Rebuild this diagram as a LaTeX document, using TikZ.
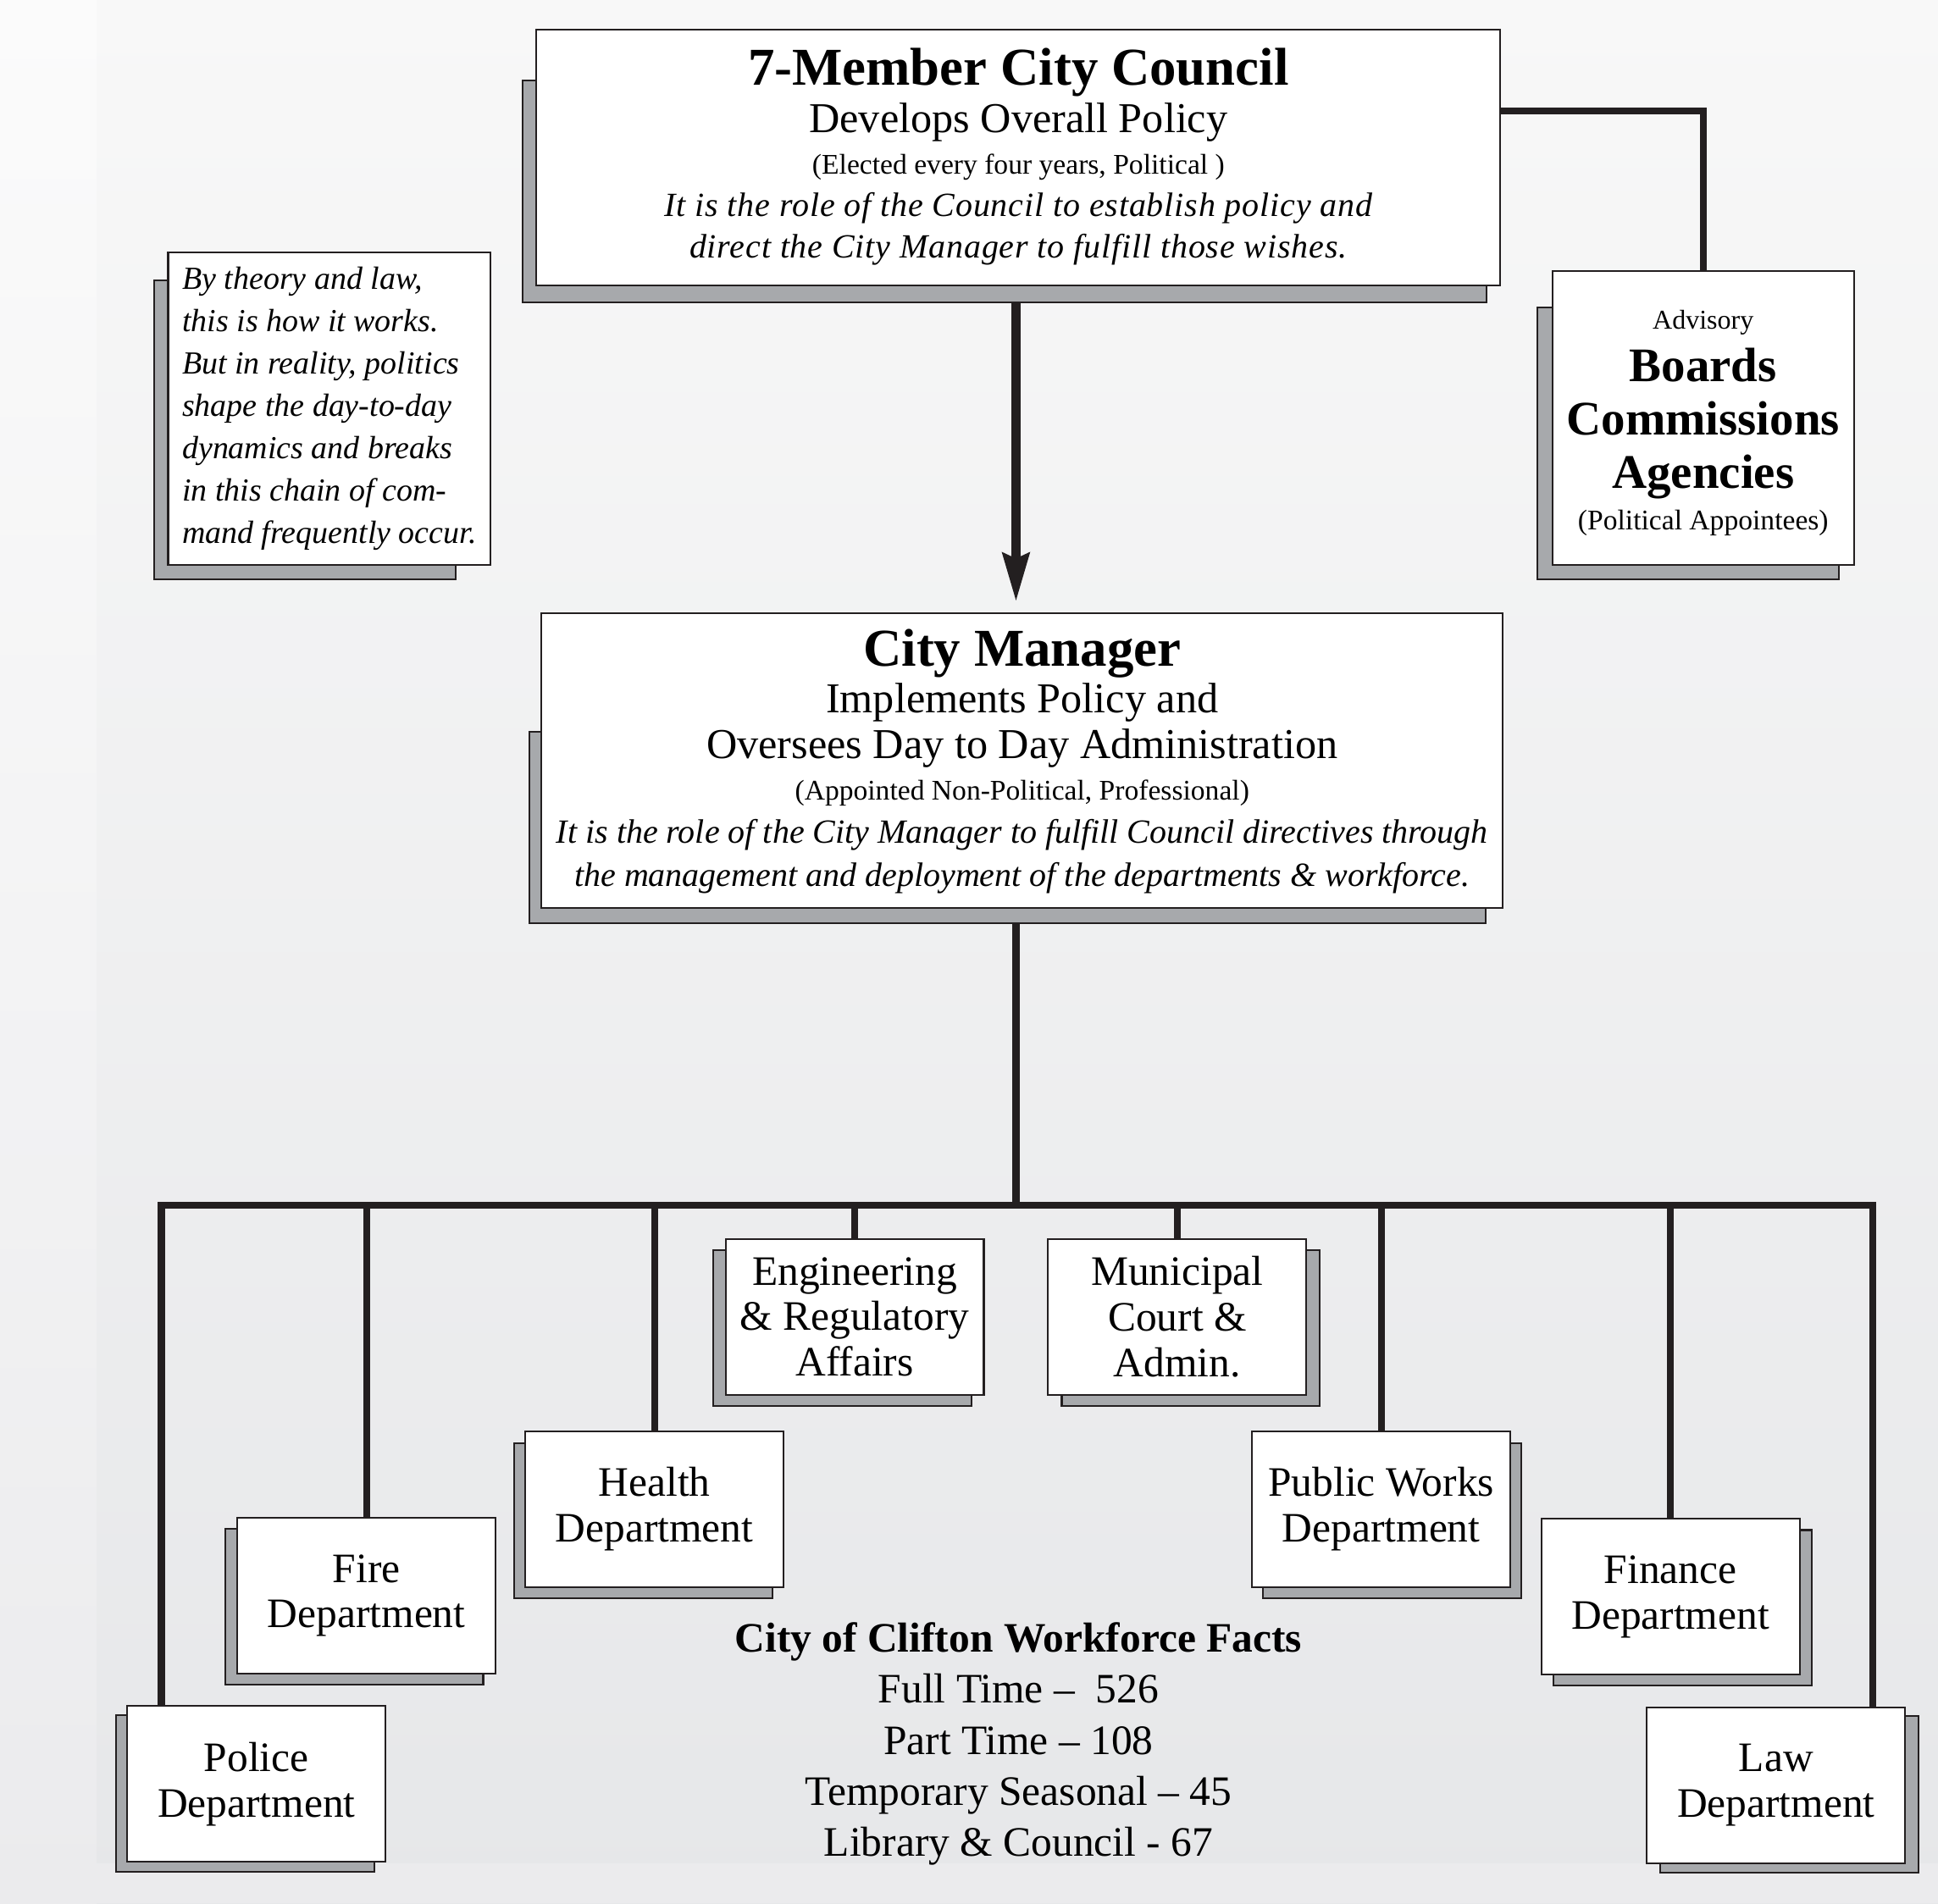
\documentclass[tikz,border=0pt]{standalone}
\usepackage{fontspec}
\setmainfont{Liberation Serif}
\usetikzlibrary{calc, arrows.meta}

\definecolor{ink}{HTML}{231F20}
\definecolor{shadegray}{HTML}{A7A9AC}
\definecolor{bgtop}{HTML}{F8F8F8}
\definecolor{bgbottom}{HTML}{E6E7E9}
\definecolor{striptop}{HTML}{FBFBFB}
\definecolor{stripbottom}{HTML}{EBEBED}

\pgfdeclarelayer{back}
\pgfdeclarelayer{shadows}
\pgfsetlayers{back,shadows,main}

\tikzset{
  box/.style={draw=ink, fill=white, line width=0.8pt, inner sep=0pt, outer sep=0pt},
  dept/.style={box, minimum width=4.18cm, minimum height=2.52cm, align=center,
    font=\fontsize{19.3}{21}\selectfont},
  boxshade/.style={draw=ink, fill=shadegray, line width=0.8pt},
  conn/.style={draw=ink, line width=3.2pt},
  headtext/.style={anchor=base, inner sep=0pt, font=\fontsize{24.5}{28}\selectfont\bfseries},
  subtext/.style={anchor=base, inner sep=0pt, font=\fontsize{19.6}{22}\selectfont},
  smalltext/.style={anchor=base, inner sep=0pt, font=\fontsize{13.1}{15}\selectfont},
  roletext/.style={anchor=base, inner sep=0pt, font=\fontsize{15.6}{19}\selectfont\itshape},
  widetext/.style={roletext, font=\fontsize{15.6}{19}\selectfont\itshape\addfontfeature{LetterSpace=2.1}},
  boardtext/.style={anchor=base, inner sep=0pt, font=\fontsize{22.2}{25}\selectfont\bfseries}
}

\begin{document}
\begin{tikzpicture}[x=0.02cm, y=-0.02cm]
\useasboundingbox (0,0) rectangle (1568,1540);

% the boxes
\node[box, minimum width=15.6cm, minimum height=4.14cm] (council) at (824,127.5) {};
\node[box, minimum width=5.22cm, minimum height=5.06cm, align=left,
  font=\fontsize{14.8}{19.5}\selectfont\itshape] (note) at (266.5,330.5)
  {By theory and law,\\this is how it works.\\But in reality, politics\\shape the day-to-day\\dynamics and breaks\\in this chain of com-\\mand frequently occur.};
\node[box, minimum width=4.88cm, minimum height=4.76cm] (advisory) at (1378,338) {};
\node[box, minimum width=15.56cm, minimum height=4.78cm] (manager) at (827,615.5) {};

\node[dept] (eng) at (691.5,1065.5) {Engineering\\\& Regulatory\\Affairs};
\node[dept] (court) at (952.5,1065.5) {Municipal\\Court \&\\Admin.};
\node[dept] (health) at (529.5,1221) {Health\\Department};
\node[dept] (works) at (1117.5,1221) {Public Works\\Department};
\node[dept] (fire) at (296.5,1291) {Fire\\Department};
\node[dept] (finance) at (1351.5,1292) {Finance\\Department};
\node[dept] (police) at (207.5,1443.5) {Police\\Department};
\node[dept] (law) at (1437,1444.5) {Law\\Department};

% texts of the big boxes
\node[headtext] (councilhead) at (824,69) {7-Member City Council};
\node[subtext] (councilsub) at (824,107) {Develops Overall Policy};
\node[smalltext] (councilnote) at (824,140.5) {(Elected every four years, Political )};
\node[widetext] (councilrolea) at (824,175) {It is the role of the Council to establish policy and};
\node[widetext] (councilroleb) at (824,209) {direct the City Manager to fulfill those wishes.};

\node[smalltext, font=\fontsize{12.5}{15}\selectfont] (advisoryhead) at (1378,266) {Advisory};
\node[boardtext] (boards) at (1378,309) {Boards};
\node[boardtext] (commissions) at (1378,352) {Commissions};
\node[boardtext] (agencies) at (1378,395) {Agencies};
\node[smalltext] (appointees) at (1378,428.5) {(Political Appointees)};

\node[headtext] (managerhead) at (827,539) {City Manager};
\node[subtext] (managersuba) at (827,577) {Implements Policy and};
\node[subtext] (managersubb) at (827,614) {Oversees Day to Day Administration};
\node[smalltext] (managernote) at (827,647.5) {(Appointed Non-Political, Professional)};
\node[roletext] (managerrolea) at (827,682) {It is the role of the City Manager to fulfill Council directives through};
\node[roletext] (managerroleb) at (827,717) {the management and deployment of the departments \& workforce.};

\node[align=center, inner sep=0pt, font=\fontsize{19.3}{23.5}\selectfont] (facts) at (824,1411)
  {\textbf{City of Clifton Workforce Facts}\\Full Time --\ \ 526\\Part Time -- 108\\Temporary Seasonal -- 45\\Library \& Council - 67};

% shadows
\begin{pgfonlayer}{shadows}
\foreach \n/\l/\t/\r/\b in {council/-11/41/-11/14, note/-11.5/23/-28.5/12, advisory/-12/30/-12/12,
    manager/-10/96/-14/12, police/-9/7/-9/8, fire/-10/9/-10/9, health/-9/10/-9/9, eng/-10/9/-10/9,
    court/11/9/11/9, works/9/10/9/9, finance/10/9/10/9, law/11/7/11/8}
  \draw[boxshade] ($(\n.north west)+(\l,\t)$) rectangle ($(\n.south east)+(\r,\b)$);
\end{pgfonlayer}

% background
\begin{pgfonlayer}{back}
\fill[top color=bgtop, bottom color=bgbottom] (0,0) rectangle (1568,1540);
\fill[top color=striptop, bottom color=stripbottom] (0,0) rectangle (78,1540);
\fill[stripbottom] (78,1508) rectangle (1568,1540);
\end{pgfonlayer}

% connectors
\coordinate (bus) at (822,975);
\draw[conn] ($(council.north east)+(0,66)$) -| (advisory.north);
\draw[conn, line width=4.5pt, -{Stealth[length=0.78cm, width=0.42cm, inset=0.08cm]},
  shorten <=0.28cm, shorten >=0.18cm] (council.south -| bus) -- (manager.north -| bus);
\draw[conn, shorten <=0.24cm] (manager.south -| bus) -- (bus);
\draw[conn] ([xshift=0.55cm]police.north west) |- (bus) -| ([xshift=-0.53cm]law.north east);
\foreach \d in {fire, health, eng, court, works, finance}
  \draw[conn] (\d.north) -- (\d.north |- bus);
\end{tikzpicture}
\end{document}
